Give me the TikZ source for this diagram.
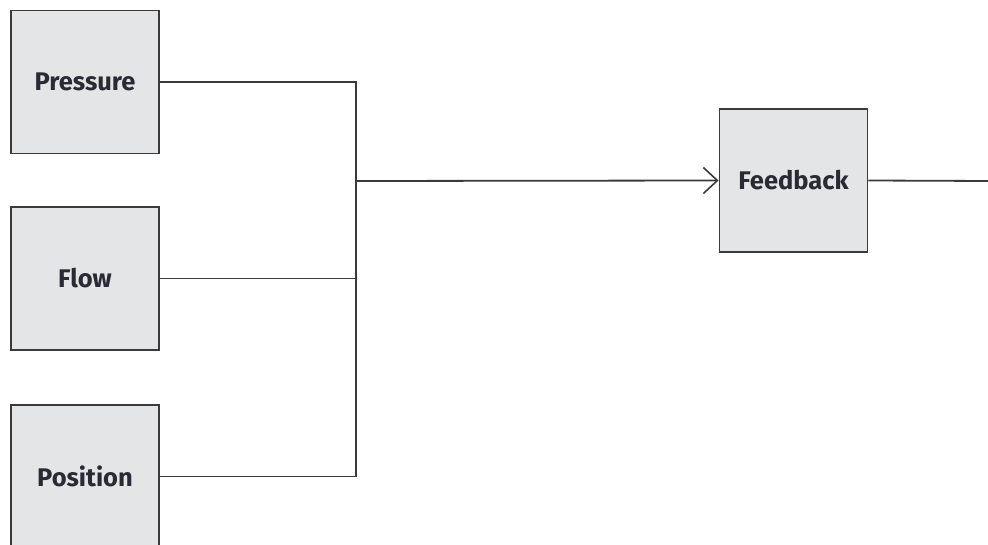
\documentclass[tikz,border=0pt]{standalone}
\usepackage{fontspec}
\setmainfont{Fira Sans}
\usetikzlibrary{arrows.meta}
\definecolor{boxfill}{HTML}{E4E5E7}
\definecolor{boxline}{HTML}{3A3A3A}
\definecolor{txt}{HTML}{2A2A35}
\begin{document}
\begin{tikzpicture}[x=1pt,y=-1pt,
  blockbox/.style={draw=boxline,fill=boxfill,line width=1.9pt,minimum width=148pt,minimum height=143pt,inner sep=0pt,font=\fontsize{25.5}{28}\selectfont\bfseries,text=txt},
  conn/.style={draw=boxline,line width=1.8pt}]
\useasboundingbox (0,0) rectangle (988,545);
\node[blockbox] (p) at (85,82) {Pressure};
\node[blockbox] (f) at (85,278.5) {Flow};
\node[blockbox] (q) at (85,476.5) {Position};
\node[blockbox] (fb) at (793.5,180.5) {Feedback};
\coordinate (j) at (356,181);
\coordinate (out) at (990,181);
\draw[conn] (p.east) -| (j);
\draw[conn] (f.east) -| (j);
\draw[conn] (q.east) -| (j);
\draw[conn,-{Straight Barb[length=14pt,width=26pt,line width=1.6pt]}] (j) -- (fb.west);
\draw[conn] (fb.east) -- (out);
\end{tikzpicture}
\end{document}
